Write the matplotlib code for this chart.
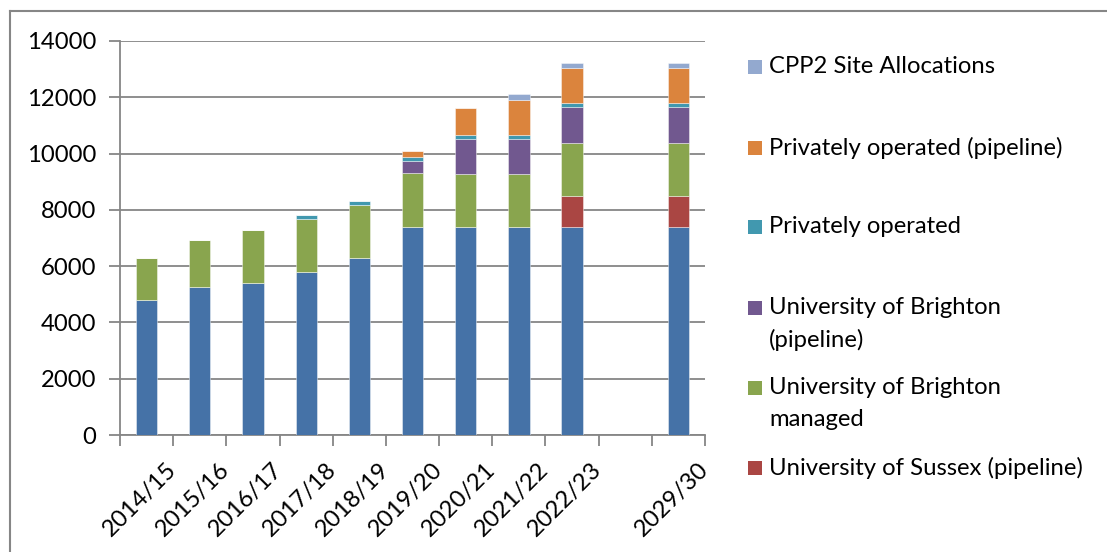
import numpy as np
import matplotlib
matplotlib.use("Agg")
import matplotlib.pyplot as plt
from matplotlib.patches import Rectangle
from matplotlib.lines import Line2D

plt.rcParams['font.family'] = ['Lato', 'DejaVu Sans']

categories = ["2014/15", "2015/16", "2016/17", "2017/18", "2018/19", "2019/20",
              "2020/21", "2021/22", "2022/23", "", "2029/30"]

sussex = [4800, 5270, 5410, 5790, 6280, 7380, 7380, 7380, 7380, 0, 7380]
sussex_pipeline = [0, 0, 0, 0, 0, 0, 0, 0, 1120, 0, 1120]
brighton_managed = [1500, 1660, 1890, 1870, 1910, 1920, 1890, 1890, 1890, 0, 1890]
brighton_pipeline = [0, 0, 0, 0, 0, 425, 1250, 1250, 1250, 0, 1250]
private_operated = [0, 0, 0, 140, 140, 140, 150, 150, 160, 0, 160]
private_pipeline = [0, 0, 0, 0, 0, 235, 950, 1240, 1230, 0, 1230]
cpp2 = [0, 0, 0, 0, 0, 0, 0, 210, 200, 0, 200]

series = [
    ("University of Sussex", sussex, "#4572A7"),
    ("University of Sussex (pipeline)", sussex_pipeline, "#AA4643"),
    ("University of Brighton\nmanaged", brighton_managed, "#89A54E"),
    ("University of Brighton\n(pipeline)", brighton_pipeline, "#71588F"),
    ("Privately operated", private_operated, "#4198AF"),
    ("Privately operated (pipeline)", private_pipeline, "#DB843D"),
    ("CPP2 Site Allocations", cpp2, "#93A9CF"),
]

FS = 17.2
W, H = 1107, 552
fig = plt.figure(figsize=(W / 100, H / 100), dpi=100)
ax = fig.add_axes([120 / W, 1 - 435 / H, (705 - 120) / W, (435 - 41) / H])

x = np.arange(len(categories))
bottom = np.zeros(len(categories))
for name, vals, col in series:
    v = np.array(vals, dtype=float)
    ax.bar(x, v, width=0.4, bottom=bottom, color=col, edgecolor=(1, 1, 1, 0.5),
           linewidth=0.6, zorder=3)
    bottom += v

grid_col = "#868686"
ax.set_xlim(-0.5, len(categories) - 0.5)
ax.set_ylim(0, 14000)
ax.set_yticks(np.arange(0, 14001, 2000))
ax.yaxis.grid(True, color=grid_col, linewidth=1.3, zorder=0)
ax.set_axisbelow(True)
for s in ["top", "right"]:
    ax.spines[s].set_visible(False)
for s in ["left", "bottom"]:
    ax.spines[s].set_color(grid_col)
    ax.spines[s].set_linewidth(1.3)

ax.tick_params(axis='y', direction='out', length=8, width=1.3, color=grid_col,
               labelsize=FS, pad=9)
ax.set_xticks(x)
ax.set_xticklabels(categories, rotation=45, ha='right', rotation_mode='anchor',
                   fontsize=FS)
ax.tick_params(axis='x', which='major', length=0, pad=17)
ax.set_xticks(np.arange(-0.5, len(categories), 1.0), minor=True)
ax.tick_params(axis='x', which='minor', direction='out', length=8, width=1.3,
               color=grid_col)
for lbl in ax.get_xticklabels():
    lbl.set_transform(lbl.get_transform() + matplotlib.transforms.ScaledTranslation(19 / 100, 0, fig.dpi_scale_trans))

# Legend (drawn manually, Excel-style spacing; bottom entry cut off as in source)
legend_items = [
    (series[6][0], series[6][2], [66.5]),
    (series[5][0], series[5][2], [147.5]),
    (series[4][0], series[4][2], [227.0]),
    (series[3][0], series[3][2], [308.0, 340.0]),
    (series[2][0], series[2][2], [388.0, 420.0]),
    (series[1][0], series[1][2], [468.0]),
]
for label, col, ys in legend_items:
    yc = ys[0]
    fig.patches.append(Rectangle((748 / W, 1 - (yc + 7) / H), 14 / W, 14 / H,
                                 transform=fig.transFigure, facecolor=col,
                                 edgecolor='none'))
    for line, yl in zip(label.split("\n"), ys):
        fig.text(769 / W, 1 - yl / H, line, fontsize=FS, va='center', ha='left',
                 color='black')

# Chart area border (left and top visible)
fig.add_artist(Line2D([10 / W, 10 / W], [0, 1 - 11 / H], transform=fig.transFigure,
                      color=grid_col, linewidth=1.5))
fig.add_artist(Line2D([10 / W, 1], [1 - 11 / H, 1 - 11 / H], transform=fig.transFigure,
                      color=grid_col, linewidth=1.5))

fig.savefig("out.png", dpi=100)
